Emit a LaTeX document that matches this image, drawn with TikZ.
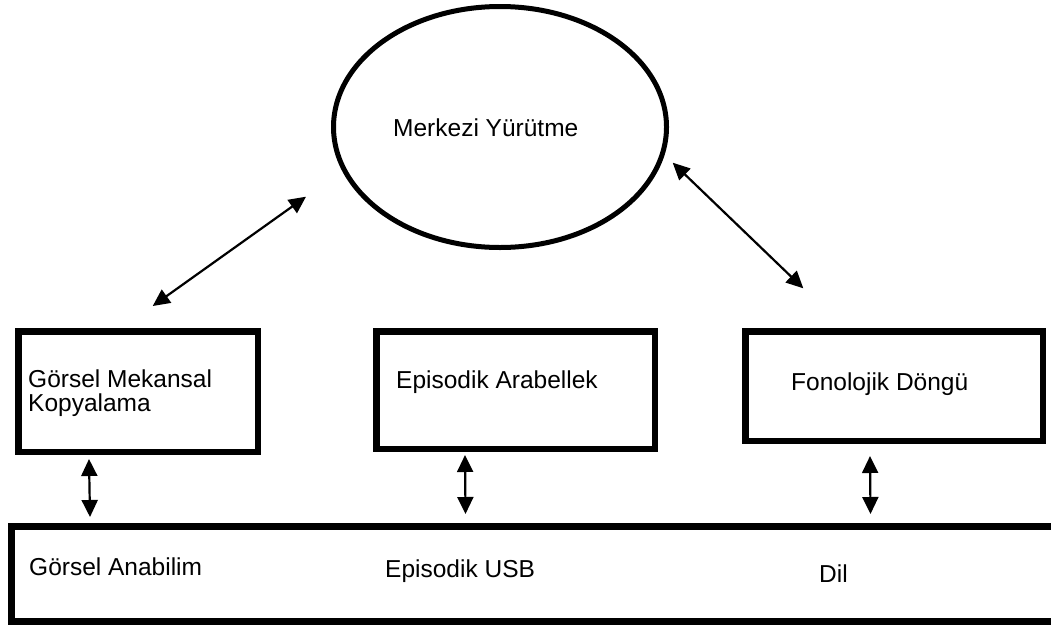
\documentclass[tikz,border=0pt]{standalone}
\usepackage{fontspec}
\setmainfont{Liberation Sans}
\usetikzlibrary{arrows.meta,shapes.geometric}

\tikzset{
  framebox/.style={draw=black, line width=6.5pt, rectangle, inner sep=0pt},
  bigoval/.style={draw=black, line width=5pt, ellipse, inner sep=0pt},
  lbl/.style={anchor=base west, inner sep=0pt, font=\fontsize{24.5}{26}\selectfont, align=left},
  link/.style={line width=2.2pt, {Triangle[length=17pt,width=16pt]}-{Triangle[length=17pt,width=16pt]}}
}

\begin{document}
\begin{tikzpicture}[x=1pt, y=-1pt]
  \useasboundingbox (0,0) rectangle (1051,624);
  \clip (0,0) rectangle (1051,624);

  % central executive
  \node[bigoval, minimum width=333pt, minimum height=241pt] (cen) at (500,127) {};
  \node[lbl] (cent) at (393,136) {Merkezi Yürütme};

  % three subsystems
  \node[framebox, minimum width=239.5pt, minimum height=120.5pt] (vis) at (138,391.5) {};
  \node[lbl] (vist) at (28,411) {Görsel Mekansal\\[-2pt]Kopyalama};

  \node[framebox, minimum width=278.5pt, minimum height=117.5pt] (epi) at (515.5,390) {};
  \node[lbl] (epit) at (396,388) {Episodik Arabellek};

  \node[framebox, minimum width=297.5pt, minimum height=109.5pt] (pho) at (894,386) {};
  \node[lbl] (phot) at (791,390) {Fonolojik Döngü};

  % long-term store band
  \node[framebox, line width=7pt, minimum width=1058.5pt, minimum height=95pt] (ltm) at (540.75,574) {};
  \node[lbl] (ltm1) at (29,575) {Görsel Anabilim};
  \node[lbl] (ltm2) at (385,577) {Episodik USB};
  \node[lbl] (ltm3) at (819,582) {Dil};

  % connector end points
  \coordinate (a1) at (152.7,306);
  \coordinate (a2) at (306,196.7);
  \coordinate (b1) at (672.7,162.7);
  \coordinate (b2) at (803.3,288.3);
  \coordinate (c1) at (89,459);
  \coordinate (c2) at (90,517);
  \coordinate (d1) at (465,455);
  \coordinate (d2) at (465.5,514);
  \coordinate (e1) at (870,456);
  \coordinate (e2) at (870.5,514);

  \draw[link] (a1) -- (a2);
  \draw[link] (b1) -- (b2);
  \draw[link] (c1) -- (c2);
  \draw[link] (d1) -- (d2);
  \draw[link] (e1) -- (e2);
\end{tikzpicture}
\end{document}
